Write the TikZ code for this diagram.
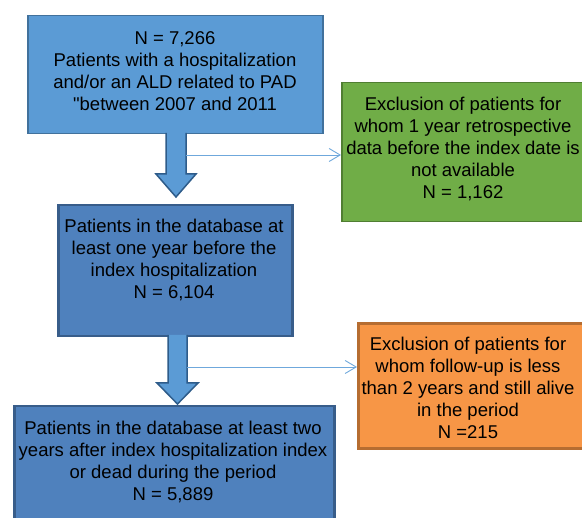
\documentclass[tikz,border=0pt]{standalone}
\usepackage{fontspec}
\setmainfont{Liberation Sans}[Ligatures=TeXOff]
\usetikzlibrary{arrows.meta}
\definecolor{lblue}{HTML}{5B9BD5}
\definecolor{lblueb}{HTML}{41719C}
\definecolor{dblue}{HTML}{4F81BD}
\definecolor{dblueb}{HTML}{385D8A}
\definecolor{gfill}{HTML}{70AD47}
\definecolor{gbord}{HTML}{507E32}
\definecolor{ofill}{HTML}{F79646}
\definecolor{obord}{HTML}{B66D31}
\definecolor{arrb}{HTML}{2E5C8A}
\definecolor{thinc}{HTML}{6FA8DC}
\begin{document}
\begin{tikzpicture}[x=1pt,y=-1pt,
  boxbase/.style={rectangle, inner sep=0pt, anchor=north west},
  topbox/.style={boxbase, fill=lblue, draw=lblueb, line width=1.5pt},
  midbox/.style={boxbase, fill=dblue, draw=dblueb, line width=2.5pt},
  greenbox/.style={boxbase, fill=gfill, draw=gbord, line width=1.5pt},
  orangebox/.style={boxbase, fill=ofill, draw=obord, line width=3pt},
  txt/.style={align=center, inner sep=0pt, font=\fontsize{18.5}{22}\selectfont},
  blockarrow/.style={fill=lblue, draw=arrb, line width=1.5pt, line join=miter},
  thinarrow/.style={draw=thinc, line width=0.9pt, -{Straight Barb[length=11pt,width=13pt,line width=0.9pt]}}
]
\useasboundingbox (0,0) rectangle (582,518);
\clip (0,0) rectangle (582,518);
\fill[white] (0,0) rectangle (582,518);

% boxes
\node[topbox, minimum width=295pt, minimum height=118pt] (b1) at (27,15) {};
\node[midbox, minimum width=234pt, minimum height=131pt] (b2) at (57,204) {};
\node[midbox, minimum width=320pt, minimum height=125pt] (b3) at (13,405) {};
\node[greenbox, minimum width=250pt, minimum height=139pt] (g) at (341,82) {};
\node[orangebox, minimum width=235pt, minimum height=125pt] (o) at (357,322) {};

% texts
\node[txt] (t1) at (175,71) {N = 7,266\\Patients with a hospitalization\\and/or an ALD related to PAD\\"between 2007 and 2011};
\node[txt] (t2) at (174,260) {Patients in the database at\\least one year before the\\index hospitalization\\N = 6,104};
\node[txt] (t3) at (173,462) {Patients in the database at least two\\years after index hospitalization index\\or dead during the period\\N = 5,889};
\node[txt] (tg) at (463,149) {Exclusion of patients for\\whom 1 year retrospective\\data before the index date is\\not available\\N = 1,162};
\node[txt] (to) at (468,388) {Exclusion of patients for\\whom follow-up is less\\than 2 years and still alive\\in the period\\N =215};

% block arrows
\draw[blockarrow] (166,133) -- (166,174) -- (156,174) -- (176,197) -- (196,174) -- (186,174) -- (186,133);
\draw[blockarrow] (168,335) -- (168,383) -- (157,383) -- (177.5,404) -- (198,383) -- (187,383) -- (187,335);

% thin connectors
\coordinate (c1) at (186,155);
\coordinate (c2) at (187,367);
\draw[thinarrow] (c1) -- (c1 -| g.west);
\draw[thinarrow] (c2) -- (c2 -| o.west);
\end{tikzpicture}
\end{document}
